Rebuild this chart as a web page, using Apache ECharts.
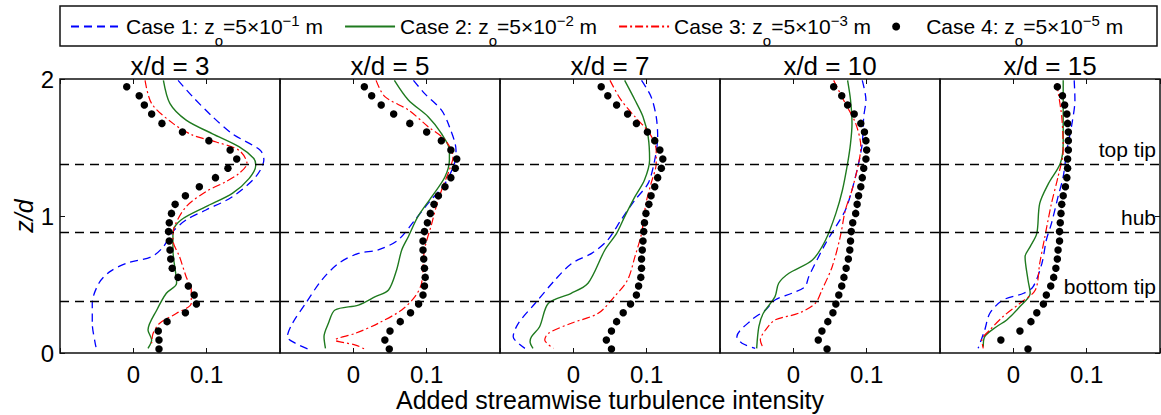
<!DOCTYPE html>
<html>
<head>
<meta charset="utf-8">
<script src="https://cdn.jsdelivr.net/npm/echarts@6.0.0/dist/echarts.min.js"></script>
<style>
  html, body { margin: 0; padding: 0; background: #fff; }
  #chart { width: 1161px; height: 415px; }
</style>
</head>
<body>
<div id="chart"></div>
<script>
// panel titles and legend entries
const panelTitles = ['x/d = 3', 'x/d = 5', 'x/d = 7', 'x/d = 10', 'x/d = 15'];
const caseNames = ['Case 1', 'Case 2', 'Case 3', 'Case 4'];
const caseExponents = ['−1', '−2', '−3', '−5'];
const refLevels = [1.375, 0.875, 0.375];
const refNames = ['top tip', 'hub', 'bottom tip'];

// case 1 (blue dashed), [x, z/d] per panel
const case1Profiles = [
  [[0.061,1.99],[0.081,1.87],[0.108,1.725],[0.135,1.60],[0.173,1.48],[0.178,1.41],[0.167,1.287],[0.135,1.14],[0.099,1.044],[0.072,0.971],[0.054,0.886],[0.041,0.776],[0.025,0.703],[-0.009,0.655],[-0.032,0.594],[-0.047,0.509],[-0.056,0.363],[-0.056,0.217],[-0.052,0.071],[-0.050,0.022]],
  [[0.082,1.99],[0.097,1.895],[0.120,1.774],[0.131,1.652],[0.140,1.48],[0.138,1.384],[0.125,1.238],[0.102,1.092],[0.084,0.971],[0.061,0.825],[0.034,0.752],[0.007,0.727],[-0.020,0.655],[-0.043,0.533],[-0.065,0.363],[-0.083,0.217],[-0.090,0.119],[-0.079,0.071],[-0.061,0.027]],
  [[0.093,1.99],[0.106,1.871],[0.113,1.725],[0.115,1.579],[0.111,1.409],[0.102,1.238],[0.084,1.117],[0.065,0.971],[0.047,0.825],[0.025,0.727],[-0.002,0.655],[-0.025,0.533],[-0.052,0.363],[-0.075,0.217],[-0.082,0.119],[-0.066,0.034]],
  [[0.094,1.99],[0.099,1.847],[0.096,1.725],[0.094,1.53],[0.089,1.384],[0.080,1.19],[0.071,1.044],[0.058,0.922],[0.044,0.80],[0.021,0.557],[0.016,0.484],[-0.002,0.436],[-0.025,0.387],[-0.038,0.314],[-0.057,0.241],[-0.077,0.119],[-0.070,0.071],[-0.052,0.034]],
  [[0.083,1.99],[0.084,1.847],[0.080,1.676],[0.073,1.48],[0.068,1.287],[0.061,1.141],[0.052,0.946],[0.045,0.825],[0.039,0.655],[0.027,0.484],[0.014,0.436],[-0.014,0.387],[-0.032,0.29],[-0.039,0.168],[-0.048,0.034]]
];

// case 2 (green solid)
const case2Profiles = [
  [[0.041,1.99],[0.050,1.82],[0.072,1.70],[0.108,1.60],[0.144,1.506],[0.164,1.421],[0.167,1.372],[0.158,1.275],[0.135,1.165],[0.099,1.068],[0.065,0.971],[0.054,0.886],[0.054,0.752],[0.059,0.509],[0.045,0.436],[0.032,0.314],[0.020,0.168],[0.025,0.095],[0.020,0.034]],
  [[0.056,1.99],[0.075,1.847],[0.102,1.725],[0.120,1.603],[0.131,1.48],[0.131,1.409],[0.125,1.287],[0.107,1.141],[0.088,0.995],[0.075,0.849],[0.066,0.752],[0.059,0.606],[0.048,0.46],[0.030,0.411],[0.007,0.35],[-0.025,0.314],[-0.034,0.217],[-0.040,0.119],[-0.038,0.034]],
  [[0.070,1.99],[0.084,1.847],[0.095,1.725],[0.102,1.579],[0.104,1.409],[0.097,1.263],[0.084,1.141],[0.070,0.995],[0.059,0.873],[0.043,0.752],[0.020,0.509],[-0.003,0.436],[-0.034,0.363],[-0.046,0.192],[-0.057,0.119],[-0.059,0.083],[-0.055,0.034]],
  [[0.074,1.99],[0.078,1.847],[0.080,1.676],[0.078,1.53],[0.074,1.384],[0.067,1.19],[0.058,1.019],[0.044,0.825],[0.026,0.679],[-0.006,0.582],[-0.020,0.509],[-0.025,0.411],[-0.041,0.29],[-0.047,0.192],[-0.050,0.034]],
  [[0.068,1.99],[0.068,1.725],[0.068,1.53],[0.064,1.384],[0.048,1.238],[0.036,1.092],[0.032,0.873],[0.023,0.776],[0.016,0.703],[0.020,0.533],[0.023,0.436],[0.009,0.339],[-0.009,0.241],[-0.023,0.192],[-0.039,0.119],[-0.041,0.046]]
];

// case 3 (red dash-dot)
const case3Profiles = [
  [[0.016,1.99],[0.025,1.82],[0.054,1.676],[0.081,1.59],[0.113,1.54],[0.144,1.48],[0.155,1.384],[0.144,1.31],[0.126,1.25],[0.099,1.178],[0.072,1.068],[0.056,0.922],[0.054,0.825],[0.063,0.703],[0.072,0.557],[0.079,0.460],[0.079,0.363],[0.059,0.29],[0.036,0.217],[0.027,0.144],[0.025,0.071]],
  [[0.031,1.99],[0.043,1.871],[0.075,1.774],[0.102,1.652],[0.125,1.555],[0.136,1.433],[0.131,1.336],[0.122,1.214],[0.113,1.068],[0.107,0.946],[0.097,0.752],[0.093,0.509],[0.084,0.411],[0.066,0.314],[0.034,0.217],[0.003,0.144],[-0.025,0.095],[0.003,0.058],[0.016,0.027]],
  [[0.050,1.99],[0.065,1.847],[0.084,1.725],[0.104,1.603],[0.113,1.48],[0.113,1.384],[0.106,1.238],[0.099,1.092],[0.093,0.873],[0.084,0.703],[0.074,0.533],[0.056,0.411],[0.034,0.29],[-0.003,0.217],[-0.034,0.144],[-0.039,0.095],[-0.027,0.034]],
  [[0.055,1.99],[0.071,1.82],[0.085,1.676],[0.092,1.506],[0.089,1.384],[0.080,1.19],[0.071,1.044],[0.064,0.849],[0.053,0.63],[0.039,0.46],[0.030,0.363],[0.007,0.29],[-0.025,0.241],[-0.038,0.168],[-0.045,0.095],[-0.041,0.034]],
  [[0.059,1.968],[0.066,1.725],[0.068,1.48],[0.061,1.287],[0.052,1.092],[0.043,0.849],[0.036,0.655],[0.030,0.46],[0.009,0.363],[-0.014,0.266],[-0.032,0.168],[-0.043,0.095],[-0.041,0.034]]
];

// case 4 (black dots): shared z/d levels, x per panel
const case4Z = [1.944,1.878,1.810,1.745,1.676,1.613,1.550,1.482,1.416,1.348,1.280,1.214,1.148,1.085,1.019,0.951,0.886,0.818,0.752,0.686,0.618,0.552,0.489,0.423,0.358,0.294,0.229,0.161,0.095,0.029];
const case4Profiles = [
  [-0.009,0.008,0.015,0.025,0.039,0.067,0.103,0.132,0.141,0.129,0.112,0.090,0.071,0.057,0.052,0.049,0.048,0.049,0.050,0.051,0.053,0.061,0.075,0.083,0.086,0.071,0.046,0.034,0.035,0.035],
  [0.015,0.025,0.038,0.055,0.077,0.100,0.120,0.133,0.141,0.139,0.133,0.125,0.116,0.110,0.105,0.101,0.097,0.095,0.095,0.096,0.097,0.098,0.097,0.095,0.089,0.078,0.064,0.050,0.043,0.049],
  [0.038,0.047,0.059,0.074,0.086,0.101,0.111,0.118,0.122,0.120,0.115,0.111,0.106,0.103,0.099,0.097,0.096,0.095,0.094,0.093,0.093,0.092,0.089,0.086,0.078,0.068,0.059,0.052,0.045,0.052],
  [0.055,0.066,0.074,0.083,0.092,0.097,0.099,0.100,0.099,0.096,0.094,0.092,0.089,0.087,0.085,0.081,0.079,0.078,0.077,0.075,0.072,0.069,0.066,0.062,0.058,0.054,0.047,0.039,0.034,0.046],
  [0.060,0.067,0.070,0.073,0.074,0.075,0.075,0.075,0.074,0.074,0.073,0.071,0.068,0.066,0.065,0.064,0.063,0.063,0.061,0.060,0.058,0.055,0.051,0.045,0.041,0.032,0.024,0.009,-0.017,0.020]
];

const font = 'Liberation Sans';
const chart = echarts.init(document.getElementById('chart'), null, { renderer: 'svg' });

const grids = [], xAxes = [], yAxes = [], series = [];
const panelLeft = 60, panelWidth = 220;
const tickStyle = { show: true, inside: true, length: 5, lineStyle: { color: '#111' } };

function xLabel(v) {
  if (Math.abs(v) < 1e-9) return '0';
  if (Math.abs(v - 0.1) < 1e-9) return '0.1';
  return '';
}

panelTitles.forEach(function (title, i) {
  grids.push({
    left: panelLeft + i * panelWidth, top: 79, width: panelWidth, height: 274,
    outerBoundsMode: 'none', containLabel: false,
    show: true, borderColor: '#111', borderWidth: 1.5
  });
  // bottom axis
  xAxes.push({
    type: 'value', gridIndex: i, min: -0.1, max: 0.2, interval: 0.1,
    axisLine: { show: false, onZero: false },
    axisTick: tickStyle,
    splitLine: { show: false },
    axisLabel: { fontFamily: font, fontSize: 24, color: '#000', margin: 9, formatter: xLabel },
    name: i === 2 ? 'Added streamwise turbulence intensity' : '',
    nameLocation: 'middle', nameGap: 34, nameMoveOverlap: false,
    nameTextStyle: { fontFamily: font, fontSize: 25, color: '#000' }
  });
  yAxes.push({
    type: 'value', gridIndex: i, min: 0, max: 2, interval: 1,
    axisLine: { show: false, onZero: false },
    axisTick: Object.assign({}, tickStyle, { show: i === 0 }),
    splitLine: { show: false },
    axisLabel: { show: i === 0, fontFamily: font, fontSize: 24, color: '#000', margin: 6 },
    name: i === 0 ? 'z/d' : '',
    nameLocation: 'middle', nameGap: 24, nameMoveOverlap: false,
    nameTextStyle: { fontFamily: font, fontSize: 25, fontStyle: 'italic', color: '#000' }
  });
});

// top axes: ticks and panel titles
panelTitles.forEach(function (title, i) {
  xAxes.push({
    type: 'value', gridIndex: i, position: 'top', min: -0.1, max: 0.2, interval: 0.1,
    axisLine: { show: false, onZero: false },
    axisTick: tickStyle,
    splitLine: { show: false },
    axisLabel: { show: false },
    name: title, nameLocation: 'middle', nameGap: 0, nameMoveOverlap: false,
    nameTextStyle: { fontFamily: font, fontSize: 26, color: '#000' }
  });
});

// right axis of last panel
yAxes.push({
  type: 'value', gridIndex: 4, position: 'right', min: 0, max: 2, interval: 1,
  axisLine: { show: false, onZero: false },
  axisTick: tickStyle,
  splitLine: { show: false },
  axisLabel: { show: false }
});

panelTitles.forEach(function (title, i) {
  series.push({
    name: caseNames[0], type: 'line', xAxisIndex: i, yAxisIndex: i,
    data: case1Profiles[i], symbol: 'none', smooth: 0.3,
    lineStyle: { color: '#0000ff', width: 1.3, type: [8, 5] },
    itemStyle: { color: '#0000ff' }
  });
  series.push({
    name: caseNames[1], type: 'line', xAxisIndex: i, yAxisIndex: i,
    data: case2Profiles[i], symbol: 'none', smooth: 0.3,
    lineStyle: { color: '#1f7a1f', width: 1.4 },
    itemStyle: { color: '#1f7a1f' }
  });
  series.push({
    name: caseNames[2], type: 'line', xAxisIndex: i, yAxisIndex: i,
    data: case3Profiles[i], symbol: 'none', smooth: 0.3,
    lineStyle: { color: '#ff0000', width: 1.2, type: [8, 3, 2, 3] },
    itemStyle: { color: '#ff0000' }
  });
  series.push({
    name: caseNames[3], type: 'scatter', xAxisIndex: i, yAxisIndex: i,
    data: case4Profiles[i].map(function (x, k) { return [x, case4Z[k]]; }),
    symbolSize: 7.5, itemStyle: { color: '#000', opacity: 1 }, z: 3,
    markLine: {
      silent: true, symbol: ['none', 'none'], animation: false,
      lineStyle: { color: '#000', type: [9, 6], width: 1.4, opacity: 1 },
      label: {
        show: i === 4, position: 'insideEndTop', formatter: '{b}', distance: 4,
        fontFamily: font, fontSize: 21, color: '#000'
      },
      data: refLevels.map(function (z, k) { return { yAxis: z, name: refNames[k] }; })
    }
  });
});

const option = {
  animation: false,
  backgroundColor: '#fff',
  grid: grids,
  xAxis: xAxes,
  yAxis: yAxes,
  legend: {
    data: caseNames.map(function (n, k) {
      return k < 3 ? { name: n, itemStyle: { opacity: 0 } } : n;
    }),
    left: 70, top: 13, padding: 0,
    itemWidth: 50, itemHeight: 8, itemGap: 21,
    selectedMode: false,
    formatter: function (name) {
      const k = caseNames.indexOf(name);
      return '{t|' + name + ': z}{s|o}{t|=5×10}{p|' + caseExponents[k] + '}{t| m}';
    },
    textStyle: {
      color: '#000',
      rich: {
        t: { fontFamily: font, fontSize: 21, color: '#000', lineHeight: 24 },
        s: { fontFamily: font, fontSize: 15, color: '#000', lineHeight: 10, height: 15, padding: [18, 0, 0, 0], verticalAlign: 'top' },
        p: { fontFamily: font, fontSize: 15, color: '#000', lineHeight: 10, height: 10, padding: [1, 0, 0, 0], verticalAlign: 'top' }
      }
    }
  },
  graphic: [{
    type: 'rect', z: -1,
    shape: { x: 60, y: 6, width: 1097, height: 40 },
    style: { fill: '#fff', stroke: '#111', lineWidth: 1.5 }
  }],
  series: series
};

chart.setOption(option);
</script>
</body>
</html>
